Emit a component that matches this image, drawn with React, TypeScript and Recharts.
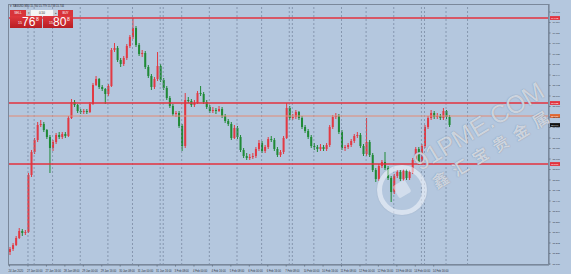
import React from "react";
import { ComposedChart, Bar, XAxis, YAxis, ReferenceLine } from "recharts";

// candles, oldest first
const opens = [
  15.236, 15.248, 15.264, 15.292, 15.32, 15.312, 15.316, 15.544, 15.636, 15.684,
  15.744, 15.748, 15.724, 15.696, 15.652, 15.676, 15.704, 15.696, 15.708, 15.7,
  15.772, 15.836, 15.824, 15.8, 15.796, 15.8, 15.796, 15.828, 15.904, 15.928,
  15.896, 15.888, 15.868, 15.9, 16.044, 16.052, 16.004, 15.988, 16.012, 16.06,
  16.096, 16.132, 16.064, 16.028, 16.032, 15.976, 15.94, 15.896, 15.928, 15.98,
  15.924, 15.892, 15.852, 15.82, 15.788, 15.792, 15.74, 15.66, 15.844, 15.84,
  15.824, 15.832, 15.872, 15.868, 15.836, 15.816, 15.8, 15.804, 15.8, 15.808,
  15.78, 15.76, 15.748, 15.692, 15.732, 15.696, 15.644, 15.62, 15.612, 15.616,
  15.62, 15.648, 15.672, 15.64, 15.656, 15.688, 15.684, 15.648, 15.624, 15.636,
  15.692, 15.812, 15.772, 15.776, 15.796, 15.772, 15.736, 15.72, 15.696, 15.66,
  15.656, 15.648, 15.656, 15.648, 15.664, 15.736, 15.776, 15.78, 15.716, 15.652,
  15.656, 15.664, 15.68, 15.7, 15.704, 15.66, 15.628, 15.676, 15.624, 15.564,
  15.528, 15.58, 15.596, 15.572, 15.532, 15.476, 15.54, 15.556, 15.528, 15.56,
  15.532, 15.556, 15.604, 15.648, 15.592, 15.66, 15.736, 15.772, 15.792, 15.776,
  15.78, 15.772, 15.8, 15.776,
];
const highs = [
  15.256, 15.272, 15.3, 15.332, 15.328, 15.324, 15.552, 15.644, 15.692, 15.756,
  15.764, 15.756, 15.728, 15.704, 15.684, 15.712, 15.716, 15.716, 15.716, 15.78,
  15.848, 15.844, 15.828, 15.808, 15.808, 15.808, 15.836, 15.912, 15.94, 15.932,
  15.904, 15.892, 15.908, 16.052, 16.072, 16.06, 16.012, 16.02, 16.068, 16.104,
  16.172, 16.14, 16.072, 16.044, 16.04, 15.984, 15.948, 15.936, 16.036, 15.988,
  15.932, 15.9, 15.86, 15.828, 15.8, 15.8, 15.748, 15.872, 15.856, 15.848,
  15.844, 15.88, 15.9, 15.876, 15.844, 15.824, 15.816, 15.812, 15.82, 15.816,
  15.788, 15.768, 15.756, 15.744, 15.74, 15.704, 15.652, 15.632, 15.628, 15.632,
  15.656, 15.684, 15.68, 15.664, 15.696, 15.7, 15.692, 15.656, 15.644, 15.7,
  15.832, 15.82, 15.788, 15.804, 15.8, 15.78, 15.744, 15.728, 15.704, 15.672,
  15.664, 15.668, 15.664, 15.672, 15.744, 15.784, 15.792, 15.788, 15.724, 15.664,
  15.672, 15.688, 15.708, 15.716, 15.712, 15.668, 15.772, 15.684, 15.632, 15.572,
  15.588, 15.604, 15.636, 15.58, 15.54, 15.548, 15.564, 15.564, 15.568, 15.568,
  15.564, 15.612, 15.656, 15.656, 15.668, 15.744, 15.78, 15.804, 15.8, 15.792,
  15.788, 15.812, 15.804, 15.784,
];
const lows = [
  15.224, 15.24, 15.26, 15.288, 15.3, 15.304, 15.312, 15.536, 15.628, 15.676,
  15.736, 15.716, 15.688, 15.552, 15.64, 15.668, 15.688, 15.688, 15.692, 15.696,
  15.768, 15.816, 15.792, 15.788, 15.788, 15.788, 15.792, 15.824, 15.9, 15.888,
  15.88, 15.828, 15.86, 15.896, 16.036, 15.996, 15.976, 15.98, 16.004, 16.052,
  16.088, 16.056, 16.02, 16.016, 15.968, 15.932, 15.884, 15.888, 15.92, 15.916,
  15.884, 15.844, 15.812, 15.78, 15.776, 15.732, 15.64, 15.652, 15.832, 15.816,
  15.816, 15.828, 15.86, 15.828, 15.808, 15.792, 15.792, 15.788, 15.796, 15.772,
  15.752, 15.74, 15.684, 15.688, 15.688, 15.636, 15.612, 15.604, 15.604, 15.608,
  15.612, 15.64, 15.632, 15.632, 15.648, 15.676, 15.64, 15.616, 15.616, 15.628,
  15.688, 15.764, 15.764, 15.768, 15.764, 15.728, 15.712, 15.688, 15.652, 15.644,
  15.636, 15.64, 15.64, 15.64, 15.656, 15.728, 15.768, 15.708, 15.644, 15.64,
  15.648, 15.656, 15.672, 15.692, 15.652, 15.62, 15.62, 15.616, 15.556, 15.516,
  15.52, 15.572, 15.564, 15.524, 15.436, 15.468, 15.532, 15.52, 15.52, 15.524,
  15.524, 15.548, 15.596, 15.584, 15.584, 15.652, 15.728, 15.764, 15.768, 15.768,
  15.764, 15.764, 15.768, 15.736,
];
const closes = [
  15.248, 15.264, 15.292, 15.32, 15.312, 15.316, 15.544, 15.636, 15.684, 15.744,
  15.748, 15.724, 15.696, 15.652, 15.676, 15.704, 15.696, 15.708, 15.7, 15.772,
  15.836, 15.824, 15.8, 15.796, 15.8, 15.796, 15.828, 15.904, 15.928, 15.896,
  15.888, 15.868, 15.9, 16.044, 16.052, 16.004, 15.988, 16.012, 16.06, 16.096,
  16.132, 16.064, 16.028, 16.032, 15.976, 15.94, 15.896, 15.928, 15.98, 15.924,
  15.892, 15.852, 15.82, 15.788, 15.792, 15.74, 15.66, 15.844, 15.84, 15.824,
  15.832, 15.872, 15.868, 15.836, 15.816, 15.8, 15.804, 15.8, 15.808, 15.78,
  15.76, 15.748, 15.692, 15.732, 15.696, 15.644, 15.62, 15.612, 15.616, 15.62,
  15.648, 15.672, 15.64, 15.656, 15.688, 15.684, 15.648, 15.624, 15.636, 15.692,
  15.812, 15.772, 15.776, 15.796, 15.772, 15.736, 15.72, 15.696, 15.66, 15.656,
  15.648, 15.656, 15.648, 15.664, 15.736, 15.776, 15.78, 15.716, 15.652, 15.656,
  15.664, 15.68, 15.7, 15.704, 15.66, 15.628, 15.676, 15.624, 15.564, 15.528,
  15.58, 15.596, 15.572, 15.532, 15.476, 15.54, 15.556, 15.528, 15.56, 15.532,
  15.556, 15.604, 15.648, 15.592, 15.66, 15.736, 15.772, 15.792, 15.776, 15.78,
  15.772, 15.8, 15.776, 15.744,
];

const SLOTS = 176; // chart keeps empty space on the right
const timeTicks = [0, 6, 12, 18, 24, 30, 36, 42, 48, 54, 60, 66, 72, 78, 84, 90, 96, 102, 108, 114, 120, 126, 132, 138];
const timeLabels = [
  "24 Jan 2020", "27 Jan 00:00", "27 Jan 16:00", "28 Jan 08:00", "29 Jan 00:00", "29 Jan 16:00",
  "30 Jan 08:00", "31 Jan 00:00", "31 Jan 16:00", "3 Feb 08:00", "4 Feb 00:00", "4 Feb 16:00",
  "5 Feb 08:00", "6 Feb 00:00", "6 Feb 16:00", "7 Feb 08:00", "10 Feb 00:00", "10 Feb 16:00",
  "11 Feb 08:00", "12 Feb 00:00", "12 Feb 16:00", "13 Feb 08:00", "14 Feb 00:00", "14 Feb 16:00",
];
const separators = [6, 8, 14, 23, 32, 40, 49, 50, 56, 65, 74, 82, 91, 92, 99, 108, 116, 125, 134, 135, 142, 149];
const priceTicks = [
  16.196, 16.154, 16.112, 16.07, 16.028, 15.986, 15.944, 15.902, 15.86, 15.818, 15.776, 15.734,
  15.692, 15.65, 15.608, 15.566, 15.524, 15.482, 15.44, 15.398, 15.356, 15.314, 15.272, 15.23, 15.188,
];
const levels = [16.172, 15.832, 15.588];
const pivot = 15.78;
const lastPrice = 15.744;

const BG = "#b4c7de";
const UP = "#e23a44";
const DOWN = "#1f8a36";
const LEVEL = "#e3323e";

const rows = Array.from({ length: SLOTS }, (_, i) =>
  i < closes.length
    ? { slot: i, open: opens[i], high: highs[i], low: lows[i], close: closes[i] }
    : { slot: i }
);

const Candle = (props: any) => {
  const { x, y, width, height, payload } = props;
  if (payload == null || payload.open == null) return null;
  const top = Math.min(y, y + height);
  const h = Math.abs(height);
  const range = payload.high - payload.low;
  const k = range > 0 ? h / range : 0;
  const color = payload.close >= payload.open ? UP : DOWN;
  const bodyTop = top + (payload.high - Math.max(payload.open, payload.close)) * k;
  const bodyH = Math.max(1, Math.abs(payload.close - payload.open) * k);
  const cx = x + width / 2;
  return (
    <g>
      <line x1={cx} x2={cx} y1={top} y2={top + h} stroke={color} strokeWidth={1} />
      <rect x={cx - 1} y={bodyTop} width={2} height={bodyH} fill={color} />
    </g>
  );
};

const TimeTick = (props: any) => {
  const { x, y, payload } = props;
  const idx = timeTicks.indexOf(payload.value);
  return (
    <text x={x - 1} y={y + 3.2} fontSize={2.7} fill="#2b3340" textAnchor="start">
      {idx >= 0 ? timeLabels[idx] : ""}
    </text>
  );
};

const tag = (text: string, color: string) => (p: any) => {
  const vb = p.viewBox || {};
  const x = (vb.x || 0) + (vb.width || 0) + 1;
  const y = vb.y || 0;
  return (
    <g>
      <rect x={x} y={y - 1.9} width={10} height={3.8} fill={color} />
      <text x={x + 1} y={y + 0.9} fontSize={2.4} fill="#ffffff">
        {text}
      </text>
    </g>
  );
};

export default function App() {
  return (
    <div
      style={{
        position: "absolute",
        left: 0,
        top: 0,
        width: 571,
        height: 274,
        background: BG,
        overflow: "hidden",
        fontFamily: "'Liberation Sans', Arial, sans-serif",
      }}
    >
      <ComposedChart
        width={571}
        height={274}
        data={rows}
        margin={{ top: 4, right: 0, bottom: 0, left: 8 }}
        barCategoryGap={0}
      >
        <XAxis
          dataKey="slot"
          type="category"
          ticks={timeTicks}
          interval={0}
          tick={<TimeTick />}
          tickLine={{ stroke: "#6b7a8c" }}
          tickSize={1.5}
          axisLine={{ stroke: "#6b7a8c" }}
          height={9}
        />
        <YAxis
          orientation="right"
          type="number"
          domain={[15.184, 16.228]}
          allowDataOverflow
          ticks={priceTicks}
          interval={0}
          width={22}
          tickSize={1.5}
          tickLine={{ stroke: "#6b7a8c" }}
          axisLine={{ stroke: "#6b7a8c" }}
          tick={{ fontSize: 2.4, fill: "#2b3340" }}
          tickFormatter={(v: number) => v.toFixed(3)}
        />
        {separators.map((s) => (
          <ReferenceLine key={"d" + s} x={s} stroke="#73839b" strokeDasharray="2 2" strokeWidth={0.7} />
        ))}
        {levels.map((v) => (
          <ReferenceLine key={"l" + v} y={v} stroke={LEVEL} strokeWidth={1.4} label={tag(v.toFixed(3), LEVEL)} />
        ))}
        <ReferenceLine y={pivot} stroke="#e48a74" strokeWidth={1} label={tag(pivot.toFixed(3), "#e0642e")} />
        <ReferenceLine y={lastPrice} stroke="none" strokeOpacity={0} label={tag(lastPrice.toFixed(3), "#111111")} />
        <Bar
          dataKey={(d: any) => (d.low == null ? null : [d.low, d.high])}
          barSize={2}
          shape={<Candle />}
          isAnimationActive={false}
        />
      </ComposedChart>

      {/* plot frame */}
      <div
        style={{
          position: "absolute",
          left: 8,
          top: 4,
          width: 541,
          height: 261,
          border: "1px solid #7a889b",
          boxSizing: "border-box",
          pointerEvents: "none",
        }}
      />

      {/* header */}
      <div style={{ position: "absolute", left: 10, top: 5, fontSize: 2.6, lineHeight: "3px", color: "#1f2530", whiteSpace: "nowrap" }}>
        ▾ XAGUSD,M30 15.760 15.779 15.738 15.744
      </div>

      {/* one click trading panel */}
      <div style={{ position: "absolute", left: 10, top: 10, width: 63, height: 18 }}>
        <div style={{ position: "absolute", left: 0, top: 0, width: 16, height: 6, background: "#d8343a", color: "#fff", fontSize: 3, textAlign: "center", lineHeight: "6px" }}>SELL</div>
        <div style={{ position: "absolute", left: 16, top: 0, width: 5, height: 6, background: "#c9ced6", color: "#555", fontSize: 3, textAlign: "center", lineHeight: "6px" }}>▾</div>
        <div style={{ position: "absolute", left: 21, top: 0, width: 22, height: 6, background: "#f4f4f4", color: "#222", fontSize: 3, textAlign: "center", lineHeight: "6px" }}>0.50</div>
        <div style={{ position: "absolute", left: 43, top: 0, width: 5, height: 6, background: "#c9ced6", color: "#555", fontSize: 3, textAlign: "center", lineHeight: "6px" }}>▴</div>
        <div style={{ position: "absolute", left: 48, top: 0, width: 15, height: 6, background: "#d8343a", color: "#fff", fontSize: 3, textAlign: "center", lineHeight: "6px" }}>BUY</div>
        <div style={{ position: "absolute", left: 0, top: 6, width: 32, height: 12, background: "linear-gradient(#e0383e, #b81e24)", color: "#fff", whiteSpace: "nowrap" }}>
          <span style={{ position: "absolute", left: 8, top: 5, fontSize: 3.5 }}>15</span>
          <span style={{ position: "absolute", left: 12, top: -1.5, fontSize: 12 }}>76</span>
          <span style={{ position: "absolute", left: 26, top: 0, fontSize: 5 }}>8</span>
        </div>
        <div style={{ position: "absolute", left: 33, top: 6, width: 30, height: 12, background: "linear-gradient(#e0383e, #b81e24)", color: "#fff", whiteSpace: "nowrap" }}>
          <span style={{ position: "absolute", left: 6, top: 5, fontSize: 3.5 }}>15</span>
          <span style={{ position: "absolute", left: 10, top: -1.5, fontSize: 12 }}>80</span>
          <span style={{ position: "absolute", left: 24, top: 0, fontSize: 5 }}>8</span>
        </div>
      </div>

      {/* watermark */}
      <div
        style={{
          position: "absolute",
          left: 377,
          top: 165,
          width: 50,
          height: 50,
          borderRadius: "50%",
          border: "5px solid rgba(240,244,250,0.6)",
          boxShadow: "0 0 1px rgba(100,115,140,0.5)",
          boxSizing: "border-box",
          pointerEvents: "none",
        }}
      />
      <div
        style={{
          position: "absolute",
          left: 395,
          top: 182,
          width: 14,
          height: 14,
          borderRadius: 2,
          background: "rgba(240,244,250,0.5)",
          transform: "rotate(-31deg)",
          pointerEvents: "none",
        }}
      />
      <div
        style={{
          position: "absolute",
          left: 422,
          top: 150,
          height: 25,
          lineHeight: "25px",
          transform: "rotate(-31deg)",
          transformOrigin: "left bottom",
          fontSize: 25,
          color: "rgba(246,249,253,0.7)",
          textShadow: "0 0 1px rgba(90,105,130,0.8)",
          whiteSpace: "nowrap",
          pointerEvents: "none",
        }}
      >
        91PME.COM
      </div>
      <div
        style={{
          position: "absolute",
          left: 437,
          top: 174,
          height: 16,
          lineHeight: "16px",
          transform: "rotate(-31deg)",
          transformOrigin: "left bottom",
          fontSize: 16,
          fontWeight: 700,
          letterSpacing: 7.4,
          fontFamily: "'Noto Sans CJK SC', sans-serif",
          color: "rgba(246,249,253,0.7)",
          textShadow: "0 0 1px rgba(90,105,130,0.8)",
          whiteSpace: "nowrap",
          pointerEvents: "none",
        }}
      >
        鑫汇宝贵金属
      </div>
    </div>
  );
}
